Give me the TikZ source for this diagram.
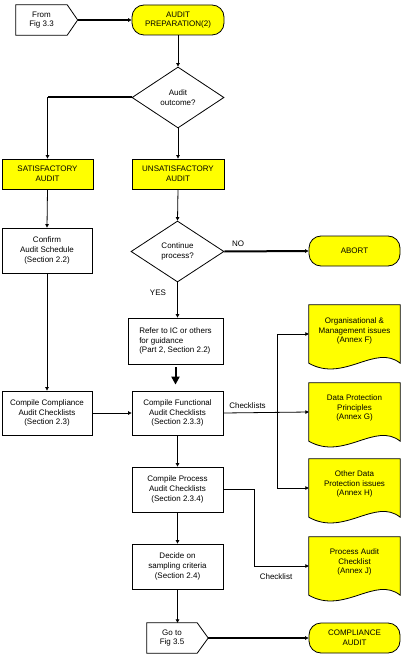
\documentclass[tikz,border=0pt]{standalone}
\usepackage{fontspec}
\setmainfont{Liberation Sans}
\usetikzlibrary{arrows.meta,shapes.geometric}
\definecolor{docyellow}{RGB}{255,255,0}
\begin{document}
\begin{tikzpicture}[x=1pt,y=-1pt,
  every node/.style={font=\fontsize{8}{9.7}\selectfont, align=center, inner sep=1pt},
  box/.style={draw, line width=0.8pt, fill=white, minimum width=91pt, minimum height=45pt},
  ybox/.style={draw, line width=0.8pt, fill=docyellow, minimum width=91pt, minimum height=30pt},
  term/.style={draw, line width=0.8pt, fill=docyellow, rounded corners=12pt, minimum width=92pt, minimum height=30pt},
  dec/.style={draw, line width=0.8pt, fill=white, diamond, inner sep=0pt, minimum width=92pt, minimum height=61pt},
  docbox/.style={minimum width=91pt, minimum height=58pt},
  lbl/.style={font=\fontsize{8}{9.7}\selectfont, inner sep=0pt},
  conn/.style={line width=0.8pt, -{Triangle[length=3.5pt,width=3.5pt]}},
  bold/.style={line width=2pt, -{Triangle[length=3.5pt,width=3.5pt]}},
  boldline/.style={line width=2pt},
  bigarrow/.style={line width=2pt, -{Triangle[length=8pt,width=8pt]}}
]
\useasboundingbox (0,0) rectangle (406,660);
\fill[white] (0,0) rectangle (406,660);

% off-page connectors
\node (from) at (41.5,20) [minimum width=51pt, minimum height=30pt, inner sep=0pt] {From\\Fig 3.3};
\draw[line width=0.8pt] (from.north west) -- (from.north east) -- ([xshift=10.5pt]from.east) coordinate (fromtip) -- (from.south east) -- (from.south west) -- cycle;

\node (goto) at (172,638) [minimum width=50pt, minimum height=30pt, inner sep=0pt] {Go to\\Fig 3.5};
\draw[line width=0.8pt] (goto.north west) -- (goto.north east) -- ([xshift=11pt]goto.east) coordinate (gototip) -- (goto.south east) -- (goto.south west) -- cycle;

% main nodes
\node[term] (prep) at (178,20) {AUDIT\\PREPARATION(2)};
\node[dec] (d1) at (178,97.5) {Audit\\outcome?};
\node[ybox] (sat) at (47.5,174) {SATISFACTORY\\AUDIT};
\node[ybox, minimum width=92pt] (unsat) at (178,174) {UNSATISFACTORY\\AUDIT};
\node[box, minimum width=90pt] (confirm) at (47,250.5) {Confirm\\Audit Schedule\\(Section 2.2)};
\node[dec, minimum width=93pt] (d2) at (177.5,251.5) {Continue\\process?};
\node[term, minimum width=91pt] (abort) at (354.5,251) {ABORT};
\node[box, minimum width=95pt, minimum height=46pt, align=left] (refer) at (175.5,341) {Refer to IC or others\\for guidance\\(Part 2, Section 2.2)};
\node[box, minimum width=90pt, minimum height=44pt] (compliance) at (47,413) {Compile Compliance\\Audit Checklists\\(Section 2.3)};
\node[box, minimum height=44pt] (functional) at (177.5,413) {Compile Functional\\Audit Checklists\\(Section 2.3.3)};
\node[box] (process) at (177.5,489.5) {Compile Process\\Audit Checklists\\(Section 2.3.4)};
\node[box] (decide) at (177.5,566.5) {Decide on\\sampling criteria\\(Section 2.4)};
\node[term, minimum width=91pt] (compaudit) at (354.5,638) {COMPLIANCE\\AUDIT};

% document shapes
\newcommand\docoutline[1]{%
  \filldraw[line width=0.8pt, fill=docyellow] (#1.north west) -- (#1.south west)
    .. controls +(35,20) and +(-25,-20) .. (#1.south east) -- (#1.north east) -- cycle;}
\node[docbox] (org) at (354.5,334) {};
\docoutline{org}
\node[lbl] at (354.5,331) {Organisational \&\\Management issues\\(Annex F)};
\node[docbox] (dpp) at (354.5,412) {};
\docoutline{dpp}
\node[lbl] at (354.5,408) {Data Protection\\Principles\\(Annex G)};
\node[docbox] (other) at (354.5,488) {};
\docoutline{other}
\node[lbl] at (354.5,484) {Other Data\\Protection issues\\(Annex H)};
\node[docbox] (pac) at (354.5,566) {};
\docoutline{pac}
\node[lbl] at (354.5,562) {Process Audit\\Checklist\\(Annex J)};

% connectors
\draw[bold] (fromtip) -- (prep.west);
\draw[conn] (prep.south) -- (d1.north);
\draw[boldline] (d1.west) -- (sat.north |- d1.west) coordinate (satturn);
\draw[conn] (satturn) -- (sat.north);
\draw[conn] (d1.south) -- (unsat.north);
\draw[conn] (sat.south) -- (confirm.north);
\draw[conn] (unsat.south) -- (d2.north);
\draw[bold] (d2.east) -- (abort.west);
\node[lbl] (no) at (238,244) {NO};
\draw[conn] (d2.south) -- (d2.south |- refer.north);
\node[lbl] (yes) at (158,293) {YES};
\draw[bigarrow, shorten <=3pt, shorten >=6pt] (refer.south) -- (refer.south |- functional.north);
\draw[conn] (confirm.south) -- (compliance.north);
\draw[conn] (compliance.east) -- (functional.west);
\draw[conn] (functional.east) -- (dpp.west);
\coordinate (br) at (277,412);
\draw[conn] (br) |- (org.west);
\draw[conn] (br) |- (other.west);
\node[lbl] (cl1) at (247.5,406) {Checklists};
\draw[conn] (process.east) -- ++(31,0) |- (pac.west);
\node[lbl] (cl2) at (276,577) {Checklist};
\draw[conn] (functional.south) -- (process.north);
\draw[conn] (process.south) -- (decide.north);
\draw[conn] (decide.south) -- (decide.south |- goto.north);
\draw[bold] (gototip) -- (compaudit.west);
\end{tikzpicture}
\end{document}
